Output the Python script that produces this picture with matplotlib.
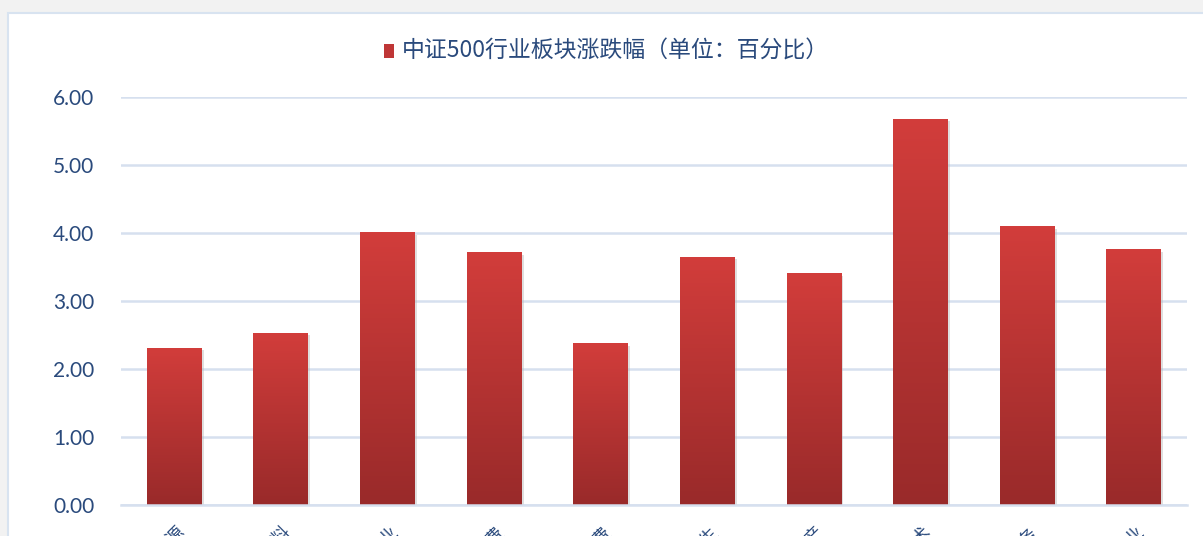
import numpy as np
import matplotlib.pyplot as plt
from matplotlib.patches import Rectangle
from matplotlib.colors import LinearSegmentedColormap
import matplotlib.transforms as mtransforms

sectors = ["能源", "材料", "工业", "可选消费", "主要消费",
           "医药卫生", "金融地产", "信息技术", "电信业务", "公用事业"]
changes = [2.31, 2.53, 4.01, 3.72, 2.38, 3.65, 3.41, 5.68, 4.10, 3.76]
series_name = "中证500行业板块涨跌幅（单位：百分比）"
yticks = [0, 1, 2, 3, 4, 5, 6]

cjk = ["Noto Sans CJK SC", "DejaVu Sans"]
text_color = "#2a4a7c"
grid_color = "#d6e0ef"
red_cmap = LinearSegmentedColormap.from_list("redgrad", ["#992a2a", "#d23d3b"])

fig = plt.figure(figsize=(12.03, 5.36), dpi=100)
fig.patch.set_facecolor("#f2f2f2")

# white chart panel behind everything
panel = Rectangle((8 / 1203, -0.05), 1.0, (536 - 13) / 536 + 0.05,
                  transform=fig.transFigure, facecolor="white",
                  edgecolor="#d8e3f0", linewidth=1.5, zorder=-5)
fig.patches.append(panel)

ax = fig.add_axes([120.7 / 1203, 31 / 536, (1187 - 120.7) / 1203, (505 - 97) / 536])
ax.set_facecolor("none")
ax.set_zorder(1)
x = np.arange(len(sectors))
width = 0.51
bars = ax.bar(x, changes, width=width, color="none", zorder=2)

# gradient fill and soft shadow for each bar
grad = np.linspace(0, 1, 256).reshape(-1, 1)
shadow_off = mtransforms.offset_copy(ax.transData, fig=fig, x=2.5, y=-2.5, units="dots")
for b in bars:
    x0, w, h = b.get_x(), b.get_width(), b.get_height()
    ax.add_patch(Rectangle((x0, 0), w, h, facecolor="#b8b8b8", alpha=0.45,
                           edgecolor="none", transform=shadow_off, zorder=1.5))
    im = ax.imshow(grad, cmap=red_cmap, aspect="auto", origin="lower",
                   extent=(x0, x0 + w, 0, h), zorder=2)
    im.set_clip_path(b)

ax.set_xlim(-0.5, len(sectors) - 0.5)
ax.set_ylim(0, 6)
ax.set_yticks(yticks)
ax.set_yticklabels([f"{v:.2f}" for v in yticks], fontsize=15,
                   color=text_color, family="Lato")
ax.yaxis.grid(True, color=grid_color, linewidth=1.8, zorder=0)
ax.set_axisbelow(True)
ax.tick_params(axis="y", length=0, pad=19)
ax.tick_params(axis="x", length=0, pad=13)
for s in ["top", "right", "left"]:
    ax.spines[s].set_visible(False)
ax.spines["bottom"].set_color(grid_color)
ax.spines["bottom"].set_linewidth(1.8)

ax.set_xticks(x)
ax.set_xticklabels(sectors, rotation=45, ha="right", va="top",
                   rotation_mode="anchor", fontsize=13, color=text_color,
                   family=cjk)
for lbl in ax.get_xticklabels():
    lbl.set_transform(lbl.get_transform() +
                      mtransforms.ScaledTranslation(2 / 100, 0, fig.dpi_scale_trans))

# legend entry above the plot
key = Rectangle((384 / 1203, (536 - 58) / 536), 10 / 1203, 14 / 536,
                transform=fig.transFigure, facecolor="#bf3636", edgecolor="none")
fig.patches.append(key)
fig.text(402 / 1203, 485 / 536, series_name, fontsize=16.5, color=text_color,
         ha="left", va="center", family=cjk)

fig.savefig("out.png", dpi=100, facecolor=fig.get_facecolor())
